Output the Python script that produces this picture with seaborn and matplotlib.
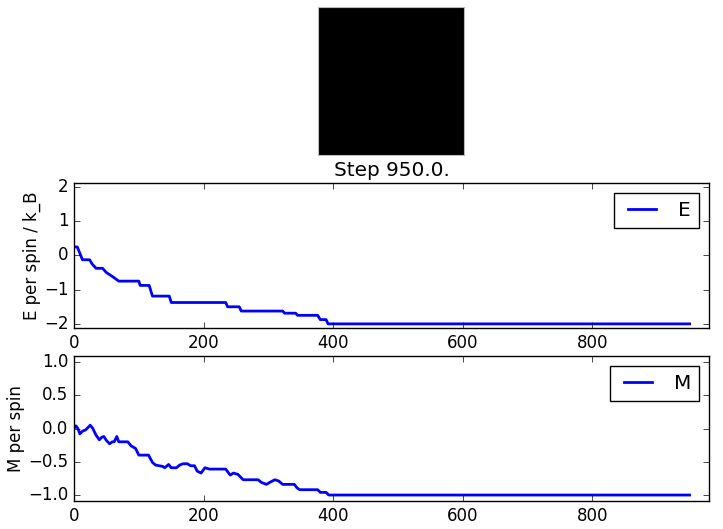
import numpy as np
import pandas as pd
import matplotlib
matplotlib.use("Agg")
import matplotlib.pyplot as plt
import seaborn as sns

# Final spin configuration (all spins down)
lattice = np.full((10, 10), -1.0)
step_label = "Step 950.0."

# Energy per spin trace
e_steps = [0, 5, 13, 24, 28, 34, 44, 50, 60, 69, 100, 102, 116, 121, 147, 150,
           234, 237, 255, 258, 322, 325, 342, 345, 376, 380, 389, 392, 950]
e_vals = [0.25, 0.25, -0.125, -0.125, -0.25, -0.375, -0.375, -0.5, -0.625, -0.75,
          -0.75, -0.875, -0.875, -1.1875, -1.1875, -1.375, -1.375, -1.5, -1.5,
          -1.625, -1.625, -1.6875, -1.6875, -1.75, -1.75, -1.875, -1.875, -2.0, -2.0]

# Magnetisation per spin trace
m_steps = [0, 3, 6, 9, 13, 18, 25, 29, 34, 39, 43, 46, 50, 55, 59, 62, 66, 69,
           83, 88, 95, 100, 115, 121, 126, 137, 140, 146, 150, 158, 163, 168, 175,
           180, 186, 190, 196, 202, 209, 234, 241, 246, 253, 261, 284, 289, 297,
           302, 310, 316, 322, 340, 344, 348, 376, 380, 389, 393, 950]
m_vals = [0.0, 0.04, 0.0, -0.08, -0.04, -0.02, 0.05, 0.0, -0.1, -0.17, -0.13,
          -0.12, -0.18, -0.23, -0.2, -0.2, -0.12, -0.2, -0.2, -0.26, -0.3, -0.4,
          -0.4, -0.51, -0.55, -0.57, -0.59, -0.54, -0.59, -0.59, -0.55, -0.53,
          -0.53, -0.56, -0.56, -0.64, -0.67, -0.59, -0.61, -0.61, -0.7, -0.67,
          -0.69, -0.77, -0.77, -0.81, -0.84, -0.81, -0.77, -0.79, -0.84, -0.84,
          -0.89, -0.92, -0.92, -0.96, -0.96, -1.0, -1.0]

plt.style.use("classic")
plt.rcParams["figure.facecolor"] = "white"
plt.rcParams["savefig.facecolor"] = "white"

fig = plt.figure(figsize=(7.23, 5.29), dpi=100)

# spin lattice image
ax_img = fig.add_axes([0.4398, 0.7070, 0.2019, 0.2798])
ax_img.imshow(lattice, cmap="gray", vmin=-1, vmax=1, aspect="auto",
              interpolation="nearest")
ax_img.set_xticks([])
ax_img.set_yticks([])
for sp in ax_img.spines.values():
    sp.set_color("#bbbbbb")
    sp.set_linewidth(0.8)

df_e = pd.DataFrame({"step": e_steps, "E": e_vals})
df_m = pd.DataFrame({"step": m_steps, "M": m_vals})

ax_e = fig.add_axes([0.1024, 0.3800, 0.8783, 0.2741])
sns.lineplot(data=df_e, x="step", y="E", ax=ax_e, color="b", linewidth=2,
             label="E", estimator=None, sort=False)
ax_e.set_xlim(0, 980)
ax_e.set_ylim(-2.12, 2.12)
ax_e.set_yticks([-2, -1, 0, 1, 2])
ax_e.set_xticks([0, 200, 400, 600, 800])
ax_e.set_xlabel("")
ax_e.set_ylabel("E per spin / k_B", labelpad=2)
ax_e.set_title(step_label)
ax_e.legend(loc="upper right")

ax_m = fig.add_axes([0.1024, 0.0529, 0.8783, 0.2741])
sns.lineplot(data=df_m, x="step", y="M", ax=ax_m, color="b", linewidth=2,
             label="M", estimator=None, sort=False)
ax_m.set_xlim(0, 980)
ax_m.set_ylim(-1.09, 1.09)
ax_m.set_yticks([-1.0, -0.5, 0.0, 0.5, 1.0])
ax_m.set_xticks([0, 200, 400, 600, 800])
ax_m.set_xlabel("")
ax_m.set_ylabel("M per spin", labelpad=2)
ax_m.legend(loc="upper right")

fig.savefig("out.png", dpi=100)
